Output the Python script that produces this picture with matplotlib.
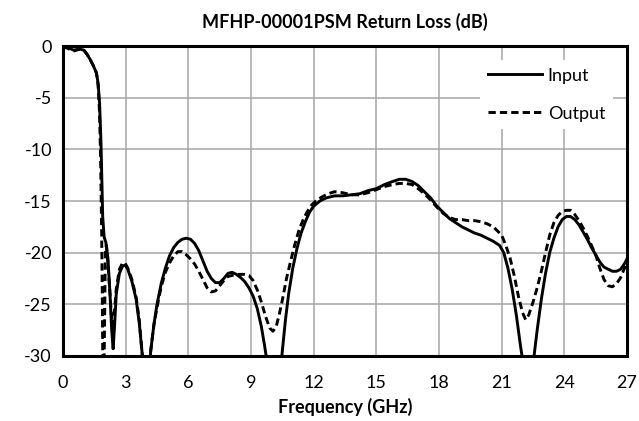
#!/usr/bin/env python

# Third-Party Packages
import matplotlib as mpl; mpl.use("Agg")
import matplotlib.pyplot as plt

# Matplotlib Configuration
# ------------------------------------------------------------------------------
mpl.rcParams.update({
    "font.family": ["Lato", "DejaVu Sans"],
    "xtick.labelsize": 13,
    "ytick.labelsize": 13,
    "legend.fontsize": 13,
})

# Data
# ------------------------------------------------------------------------------
title = "MFHP-00001PSM Return Loss (dB)"
xlabel = "Frequency (GHz)"
labels = ["Input", "Output"]

x_ticks = [0, 3, 6, 9, 12, 15, 18, 21, 24, 27]
y_ticks = [0, -5, -10, -15, -20, -25, -30]

freq_in = [
    0, 0.2, 0.5, 0.8, 1.0, 1.15, 1.3, 1.45, 1.6, 1.68, 1.75, 1.82, 1.9, 1.97,
    2.05, 2.15, 2.25, 2.33, 2.4, 2.47, 2.55, 2.7, 2.85, 2.97, 3.1, 3.3, 3.5,
    3.65, 3.8, 3.95, 4.1, 4.2, 4.35, 4.5, 4.7, 4.9, 5.1, 5.3, 5.5, 5.7, 5.9,
    6.1, 6.3, 6.5, 6.7, 6.9, 7.1, 7.3, 7.5, 7.7, 7.9, 8.1, 8.3, 8.5, 8.7, 8.9,
    9.1, 9.3, 9.5, 9.65, 9.8, 10.0, 10.3, 10.5, 10.65, 10.8, 11.0, 11.2, 11.4,
    11.6, 11.8, 12.0, 12.3, 12.6, 13.0, 13.4, 13.8, 14.2, 14.6, 15.0, 15.4,
    15.8, 16.1, 16.4, 16.7, 17.0, 17.3, 17.6, 17.9, 18.2, 18.5, 18.8, 19.1,
    19.4, 19.7, 20.0, 20.3, 20.6, 20.9, 21.1, 21.3, 21.5, 21.7, 21.9, 22.05,
    22.3, 22.55, 22.7, 22.9, 23.1, 23.3, 23.5, 23.7, 23.9, 24.1, 24.3, 24.5,
    24.7, 24.9, 25.1, 25.3, 25.5, 25.7, 25.9, 26.1, 26.3, 26.5, 26.7, 26.9, 27.0,
]
rl_in = [
    -0.1, -0.1, -0.4, -0.3, -0.4, -0.8, -1.3, -1.9, -2.6, -3.6, -5.5, -9.5,
    -16.5, -18.5, -19.0, -20.5, -24.0, -27.5, -29.3, -27.0, -24.0, -22.0,
    -21.3, -21.2, -21.6, -22.8, -24.5, -26.8, -30.0, -34.0, -32.0, -29.5,
    -27.0, -25.0, -23.0, -21.5, -20.3, -19.5, -19.0, -18.7, -18.6, -18.7,
    -19.1, -19.8, -20.8, -21.8, -22.5, -22.9, -22.9, -22.5, -22.0, -21.9,
    -22.1, -22.4, -22.8, -23.4, -24.2, -25.4, -27.2, -29.0, -31.0, -35.0,
    -34.0, -29.5, -26.5, -24.0, -21.5, -19.6, -18.1, -17.0, -16.1, -15.5,
    -15.0, -14.7, -14.5, -14.5, -14.4, -14.3, -14.0, -13.8, -13.4, -13.1,
    -12.9, -12.9, -13.1, -13.5, -14.1, -14.7, -15.5, -16.1, -16.7, -17.1,
    -17.5, -17.8, -18.1, -18.3, -18.6, -18.9, -19.3, -20.0, -21.5, -23.5,
    -26.0, -29.0, -31.0, -35.0, -30.0, -27.5, -24.5, -22.0, -20.0, -18.6,
    -17.5, -16.8, -16.5, -16.5, -16.8, -17.3, -18.0, -18.7, -19.5, -20.2,
    -20.9, -21.4, -21.6, -21.8, -21.8, -21.6, -21.0, -20.6,
]

freq_out = [
    0, 0.2, 0.5, 0.8, 1.0, 1.15, 1.3, 1.45, 1.6, 1.68, 1.75, 1.8, 1.85, 1.88,
    1.91, 1.95, 1.99, 2.03, 2.08, 2.15, 2.25, 2.35, 2.45, 2.55, 2.7, 2.85,
    2.97, 3.1, 3.3, 3.5, 3.65, 3.8, 3.95, 4.1, 4.2, 4.35, 4.5, 4.7, 4.9, 5.1,
    5.3, 5.5, 5.7, 5.9, 6.1, 6.3, 6.5, 6.7, 6.9, 7.1, 7.3, 7.5, 7.7, 7.9, 8.1,
    8.3, 8.5, 8.7, 8.9, 9.1, 9.3, 9.5, 9.7, 9.9, 10.05, 10.2, 10.35, 10.5,
    10.7, 10.9, 11.1, 11.3, 11.5, 11.7, 11.9, 12.1, 12.4, 12.7, 13.0, 13.4,
    13.8, 14.2, 14.6, 15.0, 15.4, 15.8, 16.1, 16.4, 16.7, 17.0, 17.3, 17.6,
    17.9, 18.2, 18.5, 18.8, 19.1, 19.4, 19.7, 20.0, 20.3, 20.6, 20.8, 21.0,
    21.2, 21.4, 21.6, 21.8, 22.0, 22.15, 22.3, 22.5, 22.7, 22.9, 23.1, 23.3,
    23.5, 23.7, 23.9, 24.1, 24.3, 24.5, 24.7, 24.9, 25.1, 25.3, 25.5, 25.7,
    25.9, 26.1, 26.3, 26.5, 26.7, 26.9, 27.0,
]
rl_out = [
    -0.1, -0.2, -0.5, -0.3, -0.4, -0.8, -1.3, -1.9, -2.6, -3.8, -6.5, -11.0,
    -18.0, -24.0, -32.0, -34.0, -27.0, -19.5, -19.3, -21.0, -24.0, -27.0,
    -26.0, -23.5, -21.6, -21.0, -21.0, -21.5, -22.6, -24.3, -26.5, -30.0,
    -34.0, -31.5, -29.5, -27.0, -25.3, -23.3, -21.9, -21.0, -20.3, -19.9,
    -19.9, -20.2, -20.6, -21.1, -21.8, -22.6, -23.4, -23.8, -23.7, -23.2,
    -22.7, -22.3, -22.2, -22.1, -22.1, -22.1, -22.2, -22.7, -23.6, -24.8,
    -26.2, -27.3, -27.6, -27.2, -26.0, -24.6, -22.5, -20.8, -19.2, -17.8,
    -16.8, -16.0, -15.4, -15.0, -14.6, -14.3, -14.1, -14.2, -14.4, -14.4,
    -14.2, -13.9, -13.6, -13.4, -13.3, -13.3, -13.4, -13.8, -14.3, -14.9,
    -15.6, -16.2, -16.6, -16.8, -16.8, -16.9, -16.9, -17.0, -17.2, -17.5,
    -17.9, -18.3, -19.3, -20.5, -22.2, -24.2, -25.8, -26.5, -26.0, -24.8,
    -23.4, -21.8, -20.0, -18.3, -17.1, -16.4, -16.0, -15.9, -15.9, -16.3,
    -16.9, -17.6, -18.4, -19.3, -20.2, -21.5, -22.6, -23.2, -23.3, -23.0,
    -22.4, -21.4, -20.8,
]

# Figure
# ------------------------------------------------------------------------------
def main():
    fig = plt.figure(figsize=(6.39, 4.21), dpi=100)
    ax = fig.add_axes([0.0986, 0.1544, 0.8826, 0.7363])

    ax.plot(freq_in, rl_in, color="black", lw=2.1, label=labels[0])
    ax.plot(freq_out, rl_out, color="black", lw=2.1, ls=(0, (2.5, 1.4)),
            label=labels[1])

    ax.set_xlim(0, 27)
    ax.set_ylim(-30, 0)
    ax.set_xticks(x_ticks)
    ax.set_yticks(y_ticks)
    ax.set_yticklabels([str(v) for v in y_ticks])
    ax.tick_params(axis="x", length=0, pad=14)
    ax.tick_params(axis="y", length=0, pad=8)
    ax.grid(True, color="#a6a6a6", lw=1.1)
    ax.set_axisbelow(True)
    for s in ax.spines.values():
        s.set_linewidth(2.2)
        s.set_color("black")

    ax.set_title(title, fontsize=13, fontweight="bold", pad=13)
    ax.set_xlabel(xlabel, fontsize=13, fontweight="bold", labelpad=5)

    leg = ax.legend(loc="upper right", frameon=True, fancybox=False,
                    handlelength=3.0, labelspacing=1.22, handletextpad=0.33,
                    borderaxespad=0.8)
    leg.get_frame().set_edgecolor("none")
    leg.get_frame().set_facecolor("white")
    leg.get_frame().set_alpha(1.0)

    fig.savefig("out.png", dpi=100)

if __name__ == "__main__":
    main()
